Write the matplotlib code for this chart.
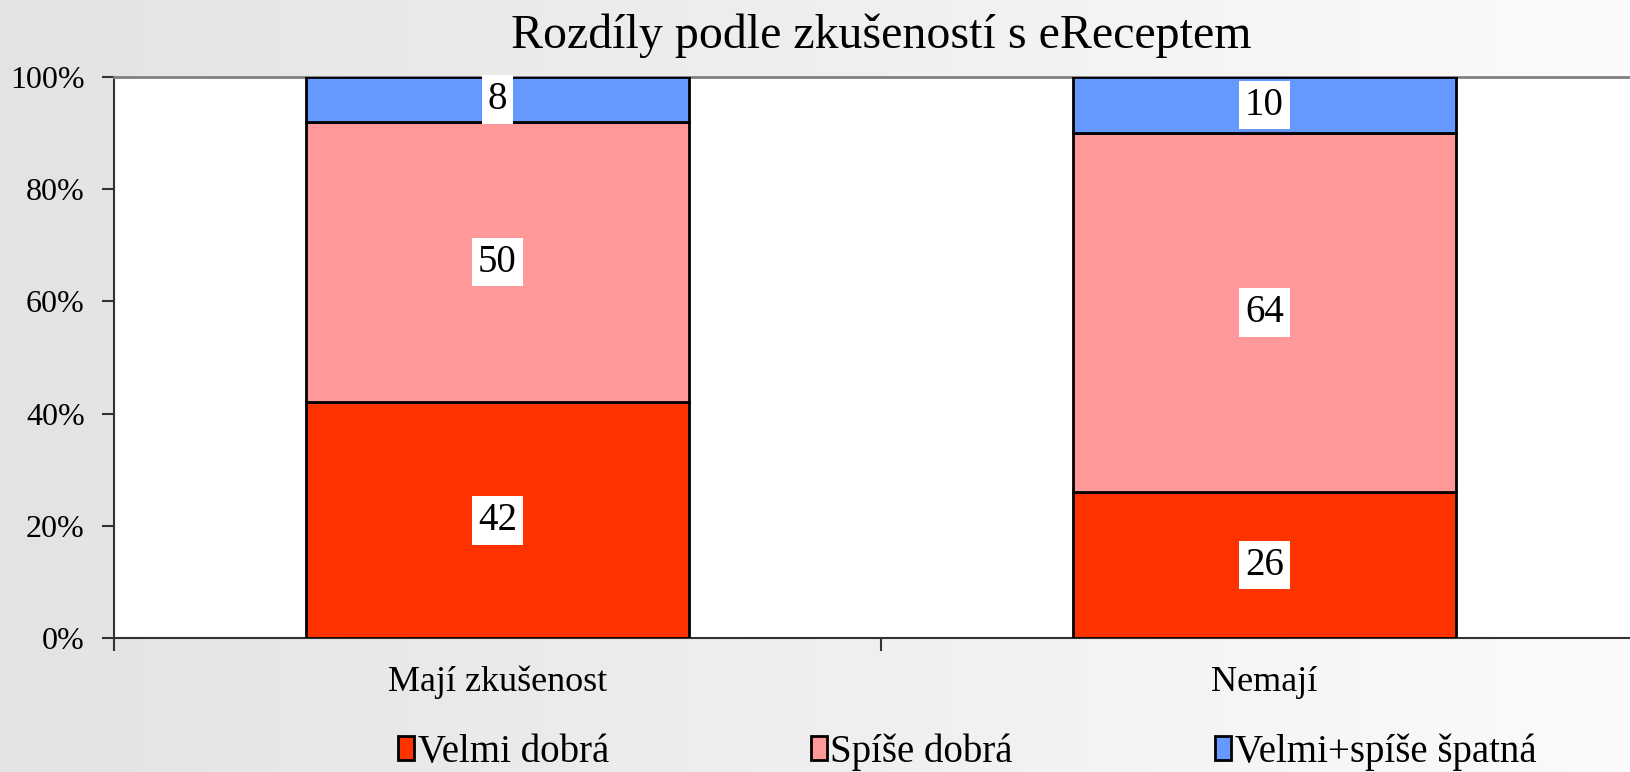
import numpy as np
import matplotlib
matplotlib.use("Agg")
import matplotlib.pyplot as plt
from matplotlib.patches import Patch
from matplotlib.colors import LinearSegmentedColormap

categories = ["Mají zkušenost", "Nemají"]
series_names = ["Velmi dobrá", "Spíše dobrá", "Velmi+spíše špatná"]
velmi_dobra = [42, 26]
spise_dobra = [50, 64]
spatna = [8, 10]
colors = ["#ff3300", "#ff9999", "#6699ff"]
title = "Rozdíly podle zkušeností s eReceptem"
yticks = [0, 20, 40, 60, 80, 100]

plt.rcParams['font.family'] = ['Liberation Serif', 'DejaVu Serif']

W, H = 1631, 772
fig = plt.figure(figsize=(W/100, H/100), dpi=100)

# gradient background
bg = fig.add_axes([0, 0, 1, 1], zorder=-10)
grad = np.linspace(0, 1, 256)[None, :]
cmap = LinearSegmentedColormap.from_list("bg", ["#e3e3e5", "#fbfbfb"])
bg.imshow(grad, aspect='auto', cmap=cmap, extent=[0, 1, 0, 1])
bg.set_axis_off()

left, right, bottom, top = 114, 1648, 638, 77
ax = fig.add_axes([left/W, (H-bottom)/H, (right-left)/W, (bottom-top)/H])
ax.set_facecolor("white")

x = np.arange(len(categories))
series = [velmi_dobra, spise_dobra, spatna]
base = np.zeros(len(categories))
for vals, col in zip(series, colors):
    vals = np.array(vals, dtype=float)
    ax.bar(x, vals, 0.5, bottom=base, color=col, edgecolor="black", linewidth=2, zorder=3)
    for xi, b, v in zip(x, base, vals):
        ax.text(xi, b + v/2, f"{int(v)}", ha="center", va="center", fontsize=28,
                bbox=dict(boxstyle="square,pad=0.15", fc="white", ec="none"), zorder=5)
    base += vals

ax.set_xlim(-0.5, 1.5)
ax.set_ylim(0, 100)
ax.set_yticks(yticks)
ax.set_yticklabels([f"{t}%" for t in yticks], fontsize=23)
ax.tick_params(axis='y', length=9, width=1.5, color="#333333", pad=12, direction='out')
ax.set_xticks(x)
ax.set_xticklabels(categories, fontsize=26)
ax.tick_params(axis='x', which='major', length=0, pad=20)
ax.set_xticks([-0.5, 0.5, 1.5], minor=True)
ax.tick_params(axis='x', which='minor', length=9, width=1.5, color="#333333", direction='out')

for s in ["left", "bottom"]:
    ax.spines[s].set_color("#333333")
    ax.spines[s].set_linewidth(1.5)
ax.spines["top"].set_color("#808080")
ax.spines["top"].set_linewidth(2)
ax.spines["right"].set_visible(False)

fig.text(881/W, 1-36/H, title, ha="center", va="center", fontsize=34.5)

handles = [Patch(facecolor=c, edgecolor="black", linewidth=2) for c in colors]
fig.legend(handles, series_names, loc="center", bbox_to_anchor=(0.593, 1-752/H), ncol=3,
           frameon=False, fontsize=28, handlelength=0.4, handleheight=0.55,
           handletextpad=0.1, columnspacing=5.2, borderaxespad=0)

fig.savefig("out.png", dpi=100)
